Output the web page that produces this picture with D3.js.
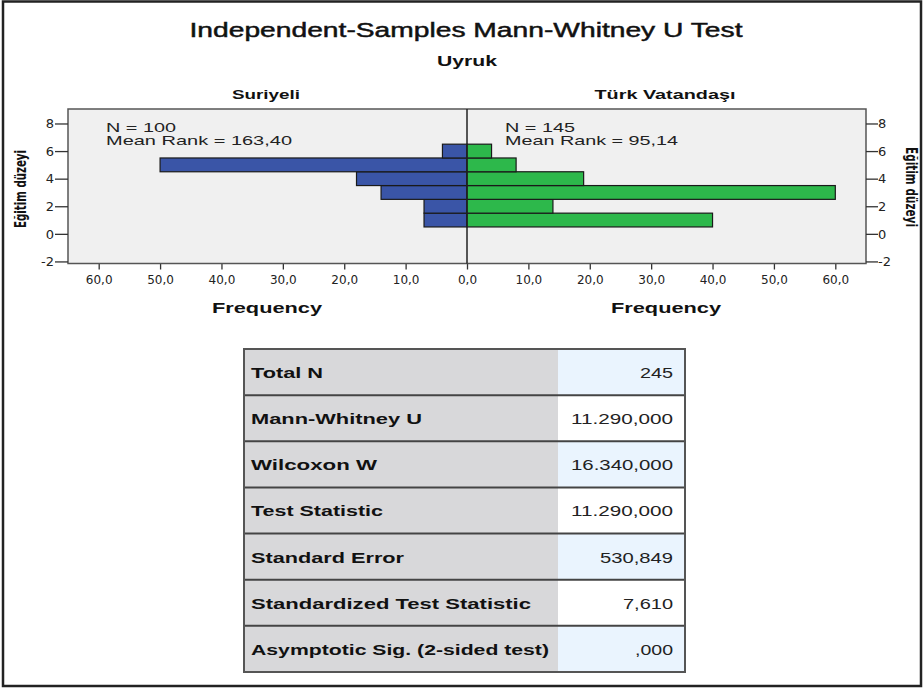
<!DOCTYPE html>
<html>
<head>
<meta charset="utf-8">
<script src="https://cdn.jsdelivr.net/npm/d3@7"></script>
<style>
  body { margin: 0; background: #fff; }
  svg { display: block; font-family: "Liberation Sans", Arial, sans-serif; }
</style>
</head>
<body>
<div id="chart"></div>
<script>
// education level bins (Eğitim düzeyi)
const levels = [1, 2, 3, 4, 5, 6];
const suriyeli = [7, 7, 14, 18, 50, 4];
const turk = [40, 14, 60, 19, 8, 4];
const freqTicks = [0, 10, 20, 30, 40, 50, 60];
const levelTicks = [-2, 0, 2, 4, 6, 8];

const groups = [
    { name: "Suriyeli", n: "N = 100", rank: "Mean Rank = 163,40", values: suriyeli, side: "left" },
    { name: "Türk Vatandaşı", n: "N = 145", rank: "Mean Rank = 95,14", values: turk, side: "right" }
];

const statLabels = ["Total N", "Mann-Whitney U", "Wilcoxon W", "Test Statistic",
    "Standard Error", "Standardized Test Statistic", "Asymptotic Sig. (2-sided test)"];
const statValues = ["245", "11.290,000", "16.340,000", "11.290,000", "530,849", "7,610", ",000"];

const width = 923, height = 688;
const svg = d3.select("#chart").append("svg")
    .attr("width", width)
    .attr("height", height);

// outer frame
svg.append("rect")
    .attr("x", 3).attr("y", 1.5)
    .attr("width", 918).attr("height", 684.5)
    .attr("fill", "none").attr("stroke", "#222").attr("stroke-width", 2.5);

const numFmt = v => d3.format(".1f")(v).replace(".", ",");

// titles
svg.append("text").attr("x", 466).attr("y", 37).attr("text-anchor", "middle")
    .attr("font-size", 20).attr("textLength", 553).attr("lengthAdjust", "spacingAndGlyphs")
    .attr("fill", "#111").attr("stroke", "#111").attr("stroke-width", 0.45)
    .text("Independent-Samples Mann-Whitney U Test");
svg.append("text").attr("x", 467).attr("y", 66).attr("text-anchor", "middle")
    .attr("font-size", 15).attr("font-weight", "bold").attr("textLength", 60)
    .attr("lengthAdjust", "spacingAndGlyphs").attr("fill", "#111").text("Uyruk");

const plotTop = 109, plotBottom = 263.5, mid = 467;
const y = d3.scaleLinear().domain([-2.15, 9.05]).range([plotBottom, plotTop]);
const xLeft = d3.scaleLinear().domain([0, 65]).range([mid, 68]);
const xRight = d3.scaleLinear().domain([0, 65]).range([mid, 866]);

// plot background
svg.append("rect").attr("x", 68).attr("y", plotTop)
    .attr("width", 866 - 68).attr("height", plotBottom - plotTop)
    .attr("fill", "#f0f0f0");

const bandTop = d => y(d + 0.5);
const bandH = y(0) - y(1);

groups.forEach(g => {
    const x = g.side === "left" ? xLeft : xRight;
    const fill = g.side === "left" ? "#3a55a7" : "#2db84b";
    const layer = svg.append("g");
    layer.selectAll("rect")
        .data(levels.map((l, i) => ({ level: l, value: g.values[i] })))
        .join("rect")
        .attr("x", d => Math.min(x(0), x(d.value)))
        .attr("y", d => bandTop(d.level))
        .attr("width", d => Math.abs(x(d.value) - x(0)))
        .attr("height", bandH)
        .attr("fill", fill)
        .attr("stroke", "#1a1a1a")
        .attr("stroke-width", 1.2);

    // x axis (the shared 0,0 label is drawn once, by the right panel)
    const ticks = g.side === "left" ? freqTicks.filter(t => t > 0) : freqTicks;
    const ax = svg.append("g").attr("transform", `translate(0,${plotBottom})`)
        .call(d3.axisBottom(x).tickValues(ticks).tickSize(6).tickFormat(numFmt));
    ax.select(".domain").remove();
    ax.selectAll("line").attr("stroke", "#333").attr("stroke-width", 1.3);
    ax.selectAll("text").attr("fill", "#222").attr("dy", "0.95em")
        .attr("font-family", "'DejaVu Sans', sans-serif").style("font-size", "12px");

    const cx = g.side === "left" ? 267 : 666;
    svg.append("text").attr("x", cx).attr("y", 313).attr("text-anchor", "middle")
        .attr("font-size", 15).attr("font-weight", "bold").attr("textLength", 110)
        .attr("lengthAdjust", "spacingAndGlyphs").attr("fill", "#111").text("Frequency");

    const hx = g.side === "left" ? 266 : 665;
    svg.append("text").attr("x", hx).attr("y", 99).attr("text-anchor", "middle")
        .attr("font-size", 13).attr("font-weight", "bold")
        .attr("textLength", g.side === "left" ? 68 : 141).attr("lengthAdjust", "spacingAndGlyphs")
        .attr("fill", "#111").text(g.name);

    const tx = g.side === "left" ? 106 : 505;
    svg.append("text").attr("x", tx).attr("y", 131.5).attr("font-size", 13)
        .attr("textLength", 70).attr("lengthAdjust", "spacingAndGlyphs")
        .attr("fill", "#222").text(g.n);
    svg.append("text").attr("x", tx).attr("y", 145).attr("font-size", 13)
        .attr("textLength", g.side === "left" ? 186 : 173).attr("lengthAdjust", "spacingAndGlyphs")
        .attr("fill", "#222").text(g.rank);
});

// frame and zero line
svg.append("rect").attr("x", 68).attr("y", plotTop)
    .attr("width", 866 - 68).attr("height", plotBottom - plotTop)
    .attr("fill", "none").attr("stroke", "#555").attr("stroke-width", 1.5);
svg.append("line").attr("x1", mid).attr("x2", mid).attr("y1", plotTop).attr("y2", plotBottom)
    .attr("stroke", "#222").attr("stroke-width", 1.5);

// y axes
const levelFmt = v => String(v);
const yl = svg.append("g").attr("transform", "translate(68,0)")
    .call(d3.axisLeft(y).tickValues(levelTicks).tickSize(13).tickFormat(levelFmt));
const yr = svg.append("g").attr("transform", "translate(866,0)")
    .call(d3.axisRight(y).tickValues(levelTicks).tickSize(12).tickFormat(levelFmt));
[yl, yr].forEach(a => {
    a.select(".domain").remove();
    a.selectAll("line").attr("stroke", "#333").attr("stroke-width", 1.3);
    a.selectAll("text").attr("fill", "#222").style("font-size", "13px")
        .attr("font-family", "'DejaVu Sans', sans-serif");
});
yl.selectAll("text").attr("x", -14);
yr.selectAll("text").attr("x", 12);

const yLabFont = "'Liberation Sans Narrow', 'DejaVu Sans Condensed', sans-serif";
svg.append("text").attr("transform", "translate(26,189) rotate(-90)")
    .attr("text-anchor", "middle").attr("font-size", 15).attr("font-weight", "bold")
    .attr("font-family", yLabFont).attr("textLength", 78).attr("lengthAdjust", "spacingAndGlyphs")
    .attr("fill", "#111").text("Eğitim düzeyi");
svg.append("text").attr("transform", "translate(906,187) rotate(90)")
    .attr("text-anchor", "middle").attr("font-size", 15).attr("font-weight", "bold")
    .attr("font-family", yLabFont).attr("textLength", 80).attr("lengthAdjust", "spacingAndGlyphs")
    .attr("fill", "#111").text("Eğitim düzeyi");

// statistics table
const tLeft = 244, tRight = 685, tDiv = 558, tTop = 349, tBottom = 672;
const rowY = d3.scaleBand().domain(statLabels).range([tTop, tBottom]);
const labelWidths = [72, 171, 126, 132, 153, 280, 298];
const valueWidths = [33, 102, 102, 102, 73, 50, 38];

const rows = svg.append("g").selectAll("g").data(statLabels).join("g")
    .attr("transform", d => `translate(0,${rowY(d)})`);
rows.append("rect").attr("x", tLeft).attr("width", tDiv - tLeft)
    .attr("height", rowY.bandwidth()).attr("fill", "#d8d8da");
rows.append("rect").attr("x", tDiv).attr("width", tRight - tDiv)
    .attr("height", rowY.bandwidth()).attr("fill", (d, i) => i % 2 === 0 ? "#eaf4fe" : "#ffffff");
rows.append("text").attr("x", 251).attr("y", rowY.bandwidth() / 2 + 6)
    .attr("font-size", 15).attr("font-weight", "bold").attr("fill", "#111")
    .attr("textLength", (d, i) => labelWidths[i]).attr("lengthAdjust", "spacingAndGlyphs")
    .text(d => d);
rows.append("text").attr("x", 673).attr("y", rowY.bandwidth() / 2 + 6)
    .attr("text-anchor", "end").attr("font-size", 15).attr("fill", "#222")
    .attr("textLength", (d, i) => valueWidths[i]).attr("lengthAdjust", "spacingAndGlyphs")
    .text((d, i) => statValues[i]);
rows.filter((d, i) => i > 0).append("line")
    .attr("x1", tLeft).attr("x2", tRight).attr("y1", 0).attr("y2", 0)
    .attr("stroke", "#444").attr("stroke-width", 2);
svg.append("rect").attr("x", tLeft).attr("y", tTop)
    .attr("width", tRight - tLeft).attr("height", tBottom - tTop)
    .attr("fill", "none").attr("stroke", "#555").attr("stroke-width", 2);
</script>
</body>
</html>
